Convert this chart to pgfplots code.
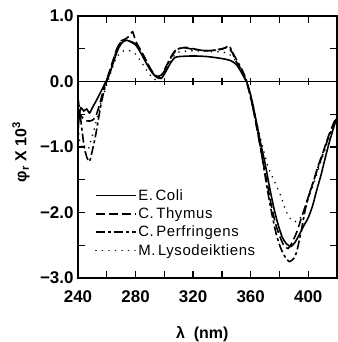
\documentclass[border=0pt]{standalone}
\usepackage{fontspec}
\setmainfont{Liberation Sans}
\newfontfamily\legfont[LetterSpace=4]{Liberation Sans}
\usepackage{pgfplots}
\pgfplotsset{compat=1.18}
\usetikzlibrary{calc}
\begin{document}
\begin{tikzpicture}
\begin{axis}[name=ax, scale only axis, width=259bp, height=262bp,
 xmin=240, xmax=420, ymin=-3, ymax=1,
 xtick={240,260,...,420}, xticklabels={240,,280,,320,,360,,400,},
 ytick={-3,-2.5,...,1}, yticklabels={−3.0,,−2.0,,−1.0,,0.0,,1.0},
 tick align=inside, major tick length=7bp, tick pos=both,
 every tick/.style={line width=1.3bp, black},
 axis line style={line width=1.6bp},
 tick label style={font=\fontsize{17}{17}\selectfont\bfseries},
 xticklabel style={yshift=-9bp},
 yticklabel style={xshift=-1bp},
 xlabel={λ\ \ (nm)}, ylabel={φ\textsubscript{r} X 10\textsuperscript{3}},
 label style={font=\fontsize{16}{16}\selectfont\bfseries},
 xlabel style={at={(axis description cs:0.48,0)}, anchor=base, yshift=-60bp},
 ylabel style={at={(axis description cs:-0.22,0.48)}, anchor=center},
 legend cell align=left,
 legend image code/.code={\draw[#1] (0bp,0bp) -- (40bp,0bp);},
 legend style={at={(rel axis cs:0.065,0.345)}, anchor=north west, draw=none, fill=none,
   font=\legfont\fontsize{15}{15}\selectfont, inner sep=0pt, row sep=3bp,
   nodes={inner sep=1.5bp}},
]
\addplot[black, line width=1.6bp, smooth, tension=0.4] coordinates {
(240,-0.75) (241,-0.5) (242,-0.4) (244,-0.45) (246,-0.42) (248,-0.48) (250,-0.4) (253,-0.28) (256,-0.15) (259,-0.02) (262,0.12) (265,0.32) (268,0.5) (271,0.6) (274,0.63) (277,0.6) (280,0.56) (283,0.46) (286,0.34) (289,0.22) (292,0.12) (295,0.06) (298,0.05) (301,0.15) (304,0.27) (307,0.36) (310,0.38) (320,0.39) (330,0.38) (340,0.35) (346,0.32) (350,0.26) (353,0.16) (356,0.04) (358,-0.05) (361,-0.3) (364,-0.62) (367,-0.95) (370,-1.25) (373,-1.6) (376,-1.92) (379,-2.18) (382,-2.38) (385,-2.48) (388,-2.52) (391,-2.45) (394,-2.33) (397,-2.2) (400,-2.08) (403,-1.9) (406,-1.65) (409,-1.42) (412,-1.15) (415,-0.9) (418,-0.68) (420,-0.55)
};
\addlegendentry{E.\,Coli}
\addplot[black, line width=1.6bp, dash pattern=on 9bp off 4bp, smooth, tension=0.4] coordinates {
(240,-0.45) (243,-0.55) (246,-0.6) (249,-0.6) (252,-0.55) (255,-0.35) (258,-0.1) (261,0.1) (264,0.3) (267,0.5) (270,0.62) (273,0.65) (276,0.7) (278,0.76) (280,0.62) (283,0.5) (286,0.38) (289,0.25) (292,0.14) (295,0.08) (298,0.1) (301,0.22) (304,0.35) (307,0.46) (310,0.5) (315,0.52) (320,0.5) (325,0.48) (330,0.47) (335,0.48) (340,0.5) (344,0.52) (347,0.45) (350,0.3) (353,0.2) (356,0.05) (359,-0.15) (362,-0.45) (365,-0.8) (368,-1.15) (371,-1.5) (374,-1.85) (377,-2.15) (380,-2.35) (383,-2.5) (386,-2.55) (389,-2.45) (392,-2.3) (395,-2.1) (398,-1.9) (401,-1.7) (404,-1.5) (407,-1.28) (410,-1.1) (413,-0.9) (416,-0.72) (420,-0.52)
};
\addlegendentry{C.\,Thymus}
\addplot[black, line width=1.6bp, dash pattern=on 9bp off 3bp on 3bp off 3bp, smooth, tension=0.4] coordinates {
(240,-0.25) (242,-0.6) (244,-0.95) (246,-1.15) (248,-1.22) (250,-1.05) (252,-0.85) (254,-0.6) (256,-0.35) (258,-0.15) (260,0.0) (263,0.2) (266,0.42) (269,0.58) (272,0.63) (275,0.62) (278,0.6) (281,0.55) (284,0.45) (287,0.33) (290,0.2) (293,0.1) (296,0.05) (299,0.12) (302,0.25) (305,0.38) (308,0.47) (312,0.52) (318,0.5) (324,0.48) (330,0.47) (336,0.48) (341,0.5) (345,0.54) (348,0.42) (351,0.3) (354,0.18) (357,0.02) (360,-0.25) (363,-0.55) (366,-0.9) (369,-1.3) (372,-1.7) (375,-2.05) (378,-2.35) (381,-2.55) (384,-2.68) (387,-2.75) (390,-2.7) (392,-2.6) (395,-2.3) (398,-1.95) (401,-1.7) (404,-1.5) (407,-1.3) (410,-1.12) (413,-0.92) (416,-0.75) (420,-0.55)
};
\addlegendentry{C.\,Perfringens}
\addplot[black, line width=1.8bp, line cap=round, dash pattern=on 0.01bp off 6.5bp, smooth, tension=0.4] coordinates {
(240,-0.6) (241,-0.9) (243,-1.0) (245,-1.08) (247,-1.05) (249,-0.9) (251,-0.75) (254,-0.5) (257,-0.25) (260,-0.05) (263,0.15) (266,0.33) (269,0.43) (272,0.47) (276,0.47) (280,0.42) (283,0.33) (286,0.23) (289,0.13) (292,0.05) (295,0.02) (298,0.05) (301,0.18) (304,0.3) (307,0.4) (310,0.45) (320,0.47) (330,0.46) (340,0.45) (345,0.42) (350,0.3) (354,0.15) (357,0.02) (360,-0.2) (363,-0.5) (366,-0.8) (369,-1.05) (372,-1.3) (375,-1.45) (378,-1.6) (381,-1.75) (384,-1.95) (387,-2.08) (390,-2.14) (393,-2.12) (396,-2.03) (399,-1.85) (402,-1.68) (405,-1.48) (408,-1.28) (411,-1.08) (414,-0.88) (417,-0.7) (420,-0.55)
};
\addlegendentry{M.\,Lysodeiktiens}
\addplot[black, line width=1.6bp, forget plot] coordinates {(240,0) (420,0)};
\pgfplotsinvokeforeach{260,280,...,400}{\draw[line width=1.3bp] (axis cs:#1,-0.06) -- (axis cs:#1,0.06);}
\end{axis}
\path (ax.south west) ++(-78bp,-64bp) coordinate (bl);
\path (ax.north east) ++(1bp,16bp) coordinate (tr);
\pgfresetboundingbox
\path[use as bounding box] (bl) rectangle (tr);
\end{tikzpicture}
\end{document}
